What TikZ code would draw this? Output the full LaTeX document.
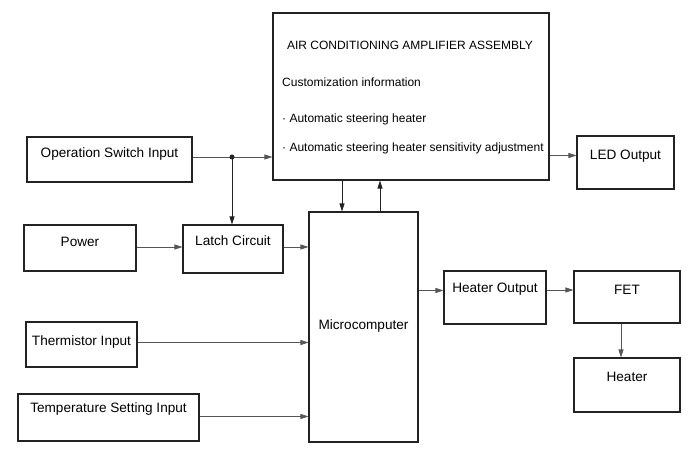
\documentclass[tikz,border=0pt]{standalone}
\usepackage{fontspec}
\setmainfont{Liberation Sans}
\usepackage{tikz}
\usetikzlibrary{arrows.meta, positioning, calc}
\definecolor{edge}{HTML}{222222}
\definecolor{wire}{HTML}{555555}

\begin{document}
\begin{tikzpicture}[
    x=1pt, y=1pt,
    box/.style={rectangle, draw=edge, line width=1.1pt, align=center,
                font=\fontsize{13.6}{15}\selectfont, text height=10pt, text depth=16pt},
    arrow/.style={-{Triangle[length=8pt,width=5pt]}, line width=0.7pt, color=wire},
    infotext/.style={anchor=base west, inner sep=0pt, font=\fontsize{12}{14}\selectfont}
  ]
    \useasboundingbox (0,0) rectangle (691,465);

    % amplifier assembly
    \node[box, minimum width=276pt, minimum height=167pt] (ac) at (411,368.5) {};
    \node[infotext, anchor=base] (actitle) at (410,415.5) {AIR CONDITIONING AMPLIFIER ASSEMBLY};
    \node[infotext] (acinfo) at (282,378.5) {Customization information};
    \node[infotext] (acitemA) at (282,342.5) {· Automatic steering heater};
    \node[infotext] (acitemB) at (282,313.5) {· Automatic steering heater sensitivity adjustment};

    % inputs
    \node[box, minimum width=165pt, minimum height=45pt, text depth=14pt] (opsw) at (109.5,305.5) {Operation Switch Input};
    \node[box, minimum width=112pt, minimum height=46pt, text depth=13pt] (power) at (80,217) {Power};
    \node[box, minimum width=100pt, minimum height=48pt, text depth=16pt] (latch) at (233,216) {Latch Circuit};
    \node[box, minimum width=111pt, minimum height=45pt, text depth=8pt] (therm) at (81.5,120.5) {Thermistor Input};
    \node[box, minimum width=181pt, minimum height=47pt, text depth=20pt] (tempset) at (108.5,47.5) {Temperature Setting Input};

    % micro and outputs
    \node[box, minimum width=109pt, minimum height=230pt, text depth=4pt] (micro) at (363.5,138) {Microcomputer};
    \node[box, minimum width=97pt, minimum height=53pt, text depth=16pt] (led) at (625.5,302.5) {LED Output};
    \node[box, minimum width=102pt, minimum height=53pt, text depth=20pt] (heatout) at (495,167.5) {Heater Output};
    \node[box, minimum width=106pt, minimum height=52pt, text depth=15pt] (fet) at (627,168) {FET};
    \node[box, minimum width=106pt, minimum height=54pt, text depth=17pt] (heater) at (627,80) {Heater};

    \coordinate (junc) at (232,308);

    \draw[wire, line width=0.7pt] (opsw.east |- junc) -- (junc);
    \draw[arrow] (junc) -- (ac.west |- junc);
    \draw[arrow, color=edge] (junc) -- (junc |- latch.north);
    \fill[edge] (junc) circle (2.5pt);
    \draw[arrow] ([yshift=1pt]power.east) -- ([yshift=1pt]power.east -| latch.west);
    \draw[arrow] ([yshift=2pt]latch.east) -- ([yshift=2pt]latch.east -| micro.west);
    \draw[arrow, color=edge] ([xshift=-21.5pt]micro.north |- ac.south) -- ([xshift=-21.5pt]micro.north);
    \draw[arrow, color=edge] ([xshift=16.5pt]micro.north) -- ([xshift=16.5pt]micro.north |- ac.south);
    \draw[arrow] ([yshift=7pt]led.west -| ac.east) -- ([yshift=7pt]led.west);
    \draw[arrow] ([yshift=7pt]heatout.west -| micro.east) -- ([yshift=7pt]heatout.west);
    \draw[arrow] ([yshift=7pt]fet.west -| heatout.east) -- ([yshift=7pt]fet.west);
    \draw[arrow] ([xshift=-6pt]fet.south) -- ([xshift=-6pt]heater.north);
    \draw[arrow] ([yshift=2pt]therm.east) -- ([yshift=2pt]therm.east -| micro.west);
    \draw[arrow] ([yshift=1pt]tempset.east) -- ([yshift=1pt]tempset.east -| micro.west);
  \end{tikzpicture}
\end{document}
